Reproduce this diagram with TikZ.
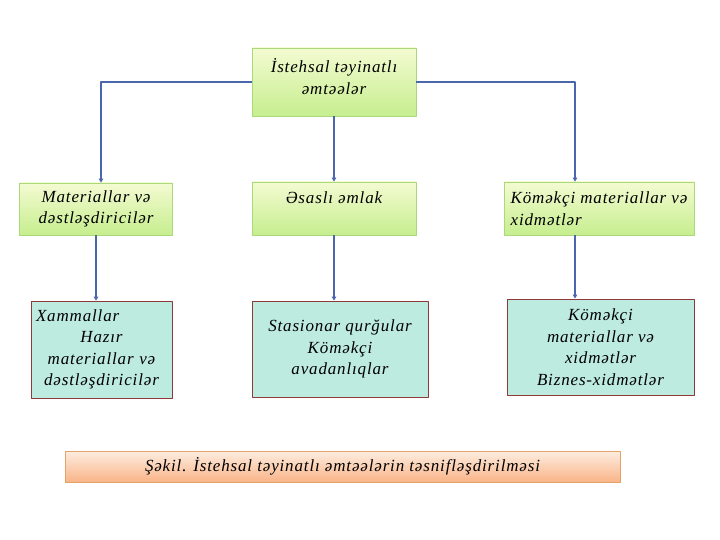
\documentclass[tikz,border=0pt]{standalone}
\usepackage{fontspec}
\setmainfont{Liberation Serif}
\newfontfamily\diagfont[LetterSpace=5]{Liberation Serif}
\usepackage{tikz}
\usetikzlibrary{arrows.meta, calc, positioning}
\definecolor{box-green-top}{HTML}{F4FBD2}
\definecolor{box-green-bot}{HTML}{C6EE8E}
\definecolor{box-green-line}{HTML}{A9D97A}
\definecolor{box-mint}{HTML}{BDEBDF}
\definecolor{box-red-line}{HTML}{8E3A3A}
\definecolor{cap-top}{HTML}{FDEDE0}
\definecolor{cap-bot}{HTML}{F9B488}
\definecolor{cap-line}{HTML}{E2A268}
\definecolor{arrow-blue}{HTML}{4A66AC}

\tikzset{
  txt/.style={font=\diagfont\itshape\fontsize{17}{21.5}\selectfont, inner sep=5pt},
  greenbox/.style={txt, draw=box-green-line, line width=0.8pt,
    top color=box-green-top, bottom color=box-green-bot},
  mintbox/.style={txt, draw=box-red-line, line width=0.9pt, fill=box-mint},
  capbox/.style={txt, draw=cap-line, line width=0.8pt,
    top color=cap-top, bottom color=cap-bot},
  link/.style={draw=arrow-blue, line width=1.4pt,
    -{Triangle[length=4pt, width=4.5pt, fill=arrow-blue]}}
}

\begin{document}
\begin{tikzpicture}[x=1pt, y=-1pt, line join=round]
  \useasboundingbox (0,0) rectangle (720,540);
  % top level
  \node[greenbox, minimum width=164pt, minimum height=68pt, align=center]
    (top) at (334,82) {İstehsal təyinatlı\\əmtəələr\\[-10pt]\mbox{}};
  % second row
  \node[greenbox, minimum width=153pt, minimum height=52pt, align=center]
    (mat) at (96,209) {Materiallar və\\dəstləşdiricilər};
  \node[greenbox, minimum width=164pt, minimum height=53pt, align=center]
    (esas) at (334,208.5) {Əsaslı əmlak\\\mbox{}};
  \node[greenbox, minimum width=190pt, minimum height=53pt, inner xsep=4pt, align=left]
    (kom) at (599,208.5) {Köməkçi materiallar və\\xidmətlər};
  % third row
  \node[mintbox, minimum width=141pt, minimum height=97pt, text width=131pt, align=center]
    (xam) at (101.5,349.5) {\makebox[\linewidth][l]{Xammallar}\\Hazır\\materiallar və\\dəstləşdiricilər};
  \node[mintbox, minimum width=176pt, minimum height=96pt, align=center]
    (stas) at (340,349) {Stasionar qurğular\\Köməkçi\\avadanlıqlar};
  \node[mintbox, minimum width=187pt, minimum height=96pt, align=center]
    (komx) at (600.5,347) {Köməkçi\\materiallar və\\xidmətlər\\Biznes-xidmətlər};
  % caption
  \node[capbox, minimum width=555pt, minimum height=31pt]
    (cap) at (342.5,466.5) {Şəkil. İstehsal təyinatlı əmtəələrin təsnifləşdirilməsi};
  % connectors
  \draw[link] (top.west) -| ([xshift=5pt]mat.north);
  \draw[link] (top.south) -- (esas.north);
  \draw[link] (top.east) -| ([xshift=-24pt]kom.north);
  \draw[link] (mat.south) -- (mat.south |- xam.north);
  \draw[link] (esas.south) -- (esas.south |- stas.north);
  \draw[link] ([xshift=-24pt]kom.south) -- ([xshift=-24pt]kom.south |- komx.north);
\end{tikzpicture}
\end{document}
